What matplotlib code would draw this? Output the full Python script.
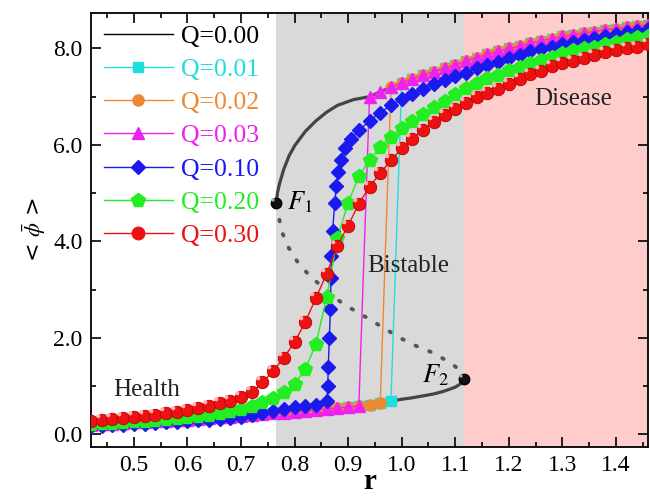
import matplotlib
matplotlib.use('Agg')
import matplotlib.pyplot as plt
import numpy as np
from matplotlib.path import Path
from matplotlib.lines import Line2D

# ---- data ----
r_low = [0.42, 0.44, 0.46, 0.48, 0.50, 0.52, 0.54, 0.56, 0.58, 0.60, 0.62, 0.64,
         0.66, 0.68, 0.70, 0.72, 0.74, 0.76, 0.78, 0.80, 0.82, 0.84, 0.86, 0.88,
         0.90, 0.92, 0.94, 0.96, 0.98]
phi_low = [0.20, 0.21, 0.22, 0.235, 0.25, 0.26, 0.27, 0.28, 0.295, 0.31, 0.32, 0.34,
           0.355, 0.37, 0.39, 0.405, 0.42, 0.435, 0.45, 0.47, 0.49, 0.51, 0.53, 0.55,
           0.565, 0.59, 0.62, 0.655, 0.69]

r_up = [0.94, 0.96, 0.98, 1.00, 1.02, 1.04, 1.06, 1.08, 1.10, 1.12, 1.14, 1.16,
        1.18, 1.20, 1.22, 1.24, 1.26, 1.28, 1.30, 1.32, 1.34, 1.36, 1.38, 1.40,
        1.42, 1.44, 1.46]
phi_up = [7.00, 7.10, 7.20, 7.29, 7.37, 7.45, 7.52, 7.59, 7.66, 7.74, 7.81, 7.88,
          7.94, 8.00, 8.05, 8.11, 8.16, 8.20, 8.25, 8.28, 8.32, 8.35, 8.39, 8.41,
          8.44, 8.46, 8.49]

# Q = 0.00 : stable lower, unstable middle, stable upper
r0_low = r_low + [1.00, 1.02, 1.04, 1.06, 1.08, 1.10, 1.11, 1.116]
phi0_low = phi_low + [0.73, 0.76, 0.80, 0.84, 0.90, 0.98, 1.05, 1.15]
r0_mid = [1.116, 1.110, 1.093, 1.059, 1.028, 0.997, 0.966, 0.935, 0.904, 0.879,
          0.854, 0.829, 0.807, 0.789, 0.776, 0.770, 0.766]
phi0_mid = [1.15, 1.32, 1.47, 1.69, 1.83, 2.00, 2.21, 2.42, 2.62, 2.80,
            3.04, 3.28, 3.55, 3.87, 4.21, 4.55, 4.80]
r0_up = [0.766, 0.768, 0.772, 0.78, 0.79, 0.80, 0.82, 0.84, 0.86, 0.88, 0.91] + r_up
phi0_up = [4.80, 5.00, 5.20, 5.50, 5.78, 5.98, 6.28, 6.50, 6.68, 6.82, 6.94] + phi_up

# fold points F1, F2
r_fold = [0.766, 1.116]
phi_fold = [4.80, 1.15]

# Q = 0.01, 0.02, 0.03 jump from the lower branch onto the upper branch
r_q01 = r_low + r_up[3:]
phi_q01 = phi_low + phi_up[3:]
r_q02 = r_low[:-1] + r_up[2:]
phi_q02 = phi_low[:-1] + phi_up[2:]
r_q03 = r_low[:-3] + r_up
phi_q03 = phi_low[:-3] + phi_up

r_q10 = [0.42, 0.44, 0.46, 0.48, 0.50, 0.52, 0.54, 0.56, 0.58, 0.60, 0.62, 0.64,
         0.66, 0.68, 0.70, 0.72, 0.74, 0.76, 0.78, 0.80, 0.82, 0.84, 0.86,
         0.862, 0.863, 0.865, 0.867, 0.868, 0.869, 0.871, 0.875, 0.878, 0.881, 0.886,
         0.894, 0.905, 0.92, 0.94, 0.96, 0.98, 1.00, 1.02, 1.04, 1.06, 1.08, 1.10,
         1.12, 1.14, 1.16, 1.18, 1.20, 1.22, 1.24, 1.26, 1.28, 1.30, 1.32, 1.34,
         1.36, 1.38, 1.40, 1.42, 1.44, 1.46]
phi_q10 = [0.17, 0.18, 0.19, 0.20, 0.21, 0.22, 0.235, 0.25, 0.26, 0.28, 0.29, 0.31,
           0.33, 0.35, 0.37, 0.40, 0.45, 0.49, 0.53, 0.56, 0.59, 0.62, 0.70,
           1.00, 1.40, 2.00, 2.59, 3.24, 3.69, 4.21, 4.80, 5.14, 5.43, 5.69,
           5.94, 6.12, 6.30, 6.50, 6.67, 6.82, 6.95, 7.06, 7.16, 7.26, 7.34, 7.42,
           7.50, 7.59, 7.65, 7.72, 7.80, 7.87, 7.94, 7.98, 8.04, 8.09, 8.14, 8.17,
           8.21, 8.26, 8.30, 8.34, 8.37, 8.40]

r_grid = [round(0.42 + 0.02 * i, 2) for i in range(53)]
phi_q20 = [0.22, 0.23, 0.24, 0.255, 0.27, 0.285, 0.30, 0.32, 0.34, 0.36, 0.38, 0.41,
           0.44, 0.48, 0.52, 0.58, 0.67, 0.76, 0.88, 1.04, 1.35, 1.88, 2.84, 4.07,
           4.80, 5.35, 5.69, 5.95, 6.17, 6.35, 6.50, 6.65, 6.78, 6.92, 7.05, 7.18,
           7.28, 7.38, 7.45, 7.56, 7.61, 7.70, 7.76, 7.83, 7.90, 7.96, 8.00, 8.04,
           8.09, 8.14, 8.19, 8.23, 8.26]
phi_q30 = [0.275, 0.30, 0.32, 0.34, 0.36, 0.38, 0.41, 0.44, 0.47, 0.51, 0.55, 0.60,
           0.65, 0.70, 0.78, 0.87, 1.08, 1.31, 1.59, 1.91, 2.33, 2.83, 3.33, 3.91,
           4.33, 4.78, 5.13, 5.42, 5.68, 5.93, 6.13, 6.32, 6.48, 6.62, 6.74, 6.86,
           6.99, 7.07, 7.16, 7.27, 7.36, 7.47, 7.54, 7.63, 7.70, 7.75, 7.81, 7.87,
           7.92, 7.96, 8.00, 8.04, 8.10]

labels = ['Q=0.00', 'Q=0.01', 'Q=0.02', 'Q=0.03', 'Q=0.10', 'Q=0.20', 'Q=0.30']
colors = ['black', '#22dddd', '#ee8833', '#ee22ee', '#1a1aee', '#22ee22', '#ee1111']

r_bistable = (0.766, 1.116)
r_range = (0.42, 1.46)

plt.rcParams['font.family'] = ['Liberation Serif', 'DejaVu Serif']
plt.rcParams['mathtext.fontset'] = 'stix'

# small offset disk used as a highlight on the "ball" markers
t = np.linspace(0, 2 * np.pi, 30)
hl_verts = np.column_stack([-0.33 + 0.16 * np.cos(t), 0.33 + 0.16 * np.sin(t)])
hl_verts = np.vstack([hl_verts, [[0.49, -0.49], [0.49, -0.49]]])
hl_codes = [Path.MOVETO] + [Path.LINETO] * 29 + [Path.MOVETO, Path.MOVETO]
highlight = Path(hl_verts, hl_codes)

fig = plt.figure(figsize=(6.5, 4.98), dpi=100)
ax = fig.add_axes([0.14, 0.1024, 0.857, 0.872])

ax.axvspan(r_bistable[0], r_bistable[1], color='#d9d9d9', lw=0, zorder=0)
ax.axvspan(r_bistable[1], r_range[1], color='#ffcccc', lw=0, zorder=0)

ax.plot(r0_low, phi0_low, color='#444444', lw=2.3, zorder=2)
ax.plot(r0_up, phi0_up, color='#444444', lw=2.3, zorder=2)
ax.plot(r0_mid, phi0_mid, color='#555555', lw=2.8, dashes=(0.4, 3.4),
        dash_capstyle='round', zorder=2)

mk = ['s', 'o', '^', 'D', 'p', 'o']
ms = [7, 8, 8.5, 7.5, 10, 9]
ax.plot(r_q01, phi_q01, color=colors[1], lw=1.0, marker=mk[0], ms=ms[0], mec=colors[1], zorder=3)
ax.plot(r_q02, phi_q02, color=colors[2], lw=1.0, marker=mk[1], ms=ms[1], mec=colors[2], zorder=3)
ax.plot(r_q03, phi_q03, color=colors[3], lw=1.0, marker=mk[2], ms=ms[2], mec=colors[3], zorder=3)
ax.plot(r_q10, phi_q10, color=colors[4], lw=1.0, marker=mk[3], ms=ms[3], mec=colors[4], zorder=3)
ax.plot(r_grid, phi_q20, color=colors[5], lw=1.0, marker=mk[4], ms=ms[4], mec=colors[5], zorder=3)
ax.plot(r_grid, phi_q30, color=colors[6], lw=1.0, marker=mk[5], ms=ms[5], mfc='#ee1111',
        mec='#bb0000', mew=0.6, zorder=3)
ax.plot(r_grid, phi_q30, ls='none', marker=highlight, ms=ms[5], mfc='#ffb0b0',
        mec='none', zorder=3.1)

ax.plot(r_fold, phi_fold, ls='none', marker='o', ms=7.5, mfc='#111111', mec='black', zorder=4)
ax.plot(r_fold, phi_fold, ls='none', marker=highlight, ms=7.5, mfc='#aaaaaa',
        mec='none', zorder=4.1)

ax.text(0.786, 4.82, '$F_1$', fontsize=19, va='center', ha='left', zorder=5)
ax.text(1.038, 1.22, '$F_2$', fontsize=19, va='center', ha='left', zorder=5)
ax.text(0.524, 0.93, 'Health', fontsize=18, ha='center', va='center', color='#222222')
ax.text(1.012, 3.5, 'Bistable', fontsize=18, ha='center', va='center', color='#222222')
ax.text(1.321, 6.96, 'Disease', fontsize=18, ha='center', va='center', color='#222222')

ax.set_xlim(r_range)
ax.set_ylim(-0.26, 8.74)
ax.set_xticks(np.arange(0.5, 1.41, 0.1))
ax.set_xticks(np.arange(0.45, 1.46, 0.05), minor=True)
ax.set_yticks([0, 2, 4, 6, 8])
ax.set_yticks([1, 3, 5, 7], minor=True)
ax.set_yticklabels(['0.0', '2.0', '4.0', '6.0', '8.0'])
ax.set_xticklabels(['%.1f' % v for v in np.arange(0.5, 1.41, 0.1)])
ax.tick_params(which='both', direction='in', top=True, right=True, labelsize=17, width=1.2)
ax.tick_params(which='major', length=7, pad=6)
ax.tick_params(which='minor', length=3.5)
for s in ax.spines.values():
    s.set_linewidth(1.3)

ax.set_xlabel('r', fontsize=21, fontweight='bold', labelpad=-6)
ax.set_ylabel(r'< $\bar{\phi}$ >', fontsize=16, family='DejaVu Sans', labelpad=4)

handles = [Line2D([], [], color='black', lw=1.0)]
for c, m, s in zip(colors[1:], mk, ms):
    handles.append(Line2D([], [], color=c, lw=1.0, marker=m, ms=s, mec=c))
ax.legend(handles, labels, loc='upper left', bbox_to_anchor=(-0.005, 1.008), frameon=False,
          fontsize=18.5, labelcolor='linecolor', handlelength=2.7, handletextpad=0.3,
          labelspacing=0.4, borderaxespad=0.2)

fig.savefig('out.png', dpi=100)
